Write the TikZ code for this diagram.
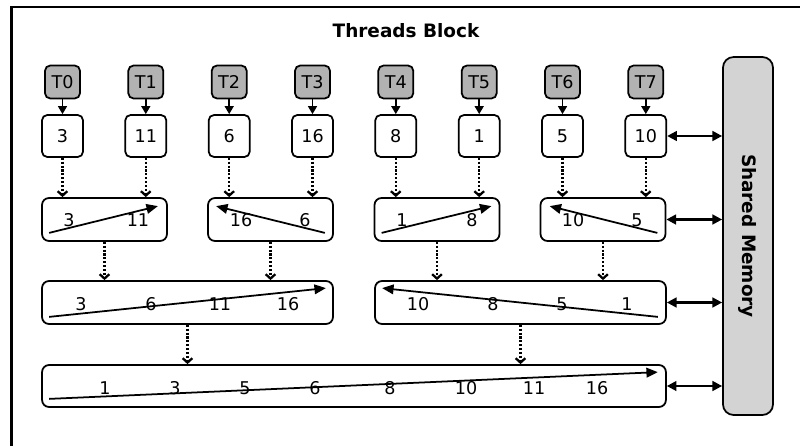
\documentclass[tikz,border=0pt]{standalone}
\usepackage{fontspec}
\setmainfont{DejaVu Sans}
\usetikzlibrary{arrows.meta, positioning, calc}
\definecolor{thrgray}{RGB}{178,178,178}
\definecolor{memgray}{RGB}{211,211,211}
\tikzset{
  threadnode/.style={rectangle, draw=black, fill=thrgray, rounded corners=3pt,
    minimum width=0.7cm, minimum height=0.66cm, inner sep=0pt,
    line width=1pt, font=\fontsize{10}{12}\selectfont},
  valbox/.style={rectangle, draw=black, fill=white, rounded corners=3pt,
    minimum width=0.82cm, minimum height=0.84cm, inner sep=0pt,
    line width=1pt, font=\fontsize{10}{12}\selectfont},
  mergebox/.style={rectangle, draw=black, rounded corners=4pt,
    minimum height=0.86cm, inner sep=0pt, line width=1pt},
  memblock/.style={rectangle, draw=black, fill=memgray, rounded corners=6pt,
    minimum width=1cm, minimum height=7.16cm, inner sep=0pt, line width=1pt},
  num/.style={inner sep=0pt, font=\fontsize{10}{12}\selectfont},
  arrow/.style={-{Triangle[length=4.5pt, width=5pt]}, line width=1pt},
  dotarrow/.style={-{Straight Barb[length=2.5pt, width=5.5pt]}, dash pattern=on 1.2pt off 1pt, line width=1.3pt},
  biarrow/.style={{Triangle[length=5.5pt, width=5.5pt]}-{Triangle[length=5.5pt, width=5.5pt]}, line width=1.3pt},
  sortarrow/.style={-{Triangle[length=6.5pt, width=5.5pt]}, line width=1pt}
}
\begin{document}
\begin{tikzpicture}[x=0.02cm, y=-0.02cm]
  \useasboundingbox (0,0) rectangle (800,446);

  % block frame and title
  \draw[line width=1.7pt] (11.5,446) -- (11.5,7) -- (800,7);
  \node[font=\fontsize{10.5}{12}\selectfont\bfseries] (title) at (406,31) {Threads Block};

  % shared memory
  \node[memblock] (shmem) at (748,236) {};
  \node[rotate=-90, font=\fontsize{10.5}{12}\selectfont\bfseries] (shmemlbl) at (shmem.center) {Shared Memory};

  % threads and their values
  \node[threadnode] (t0) at (62.5,82) {T0};
  \node[threadnode] (t1) at (145.8,82) {T1};
  \node[threadnode] (t2) at (229.2,82) {T2};
  \node[threadnode] (t3) at (312.5,82) {T3};
  \node[threadnode] (t4) at (395.8,82) {T4};
  \node[threadnode] (t5) at (479.2,82) {T5};
  \node[threadnode] (t6) at (562.5,82) {T6};
  \node[threadnode] (t7) at (645.8,82) {T7};

  \node[valbox] (v0) at (62.5,136) {3};
  \node[valbox] (v1) at (145.8,136) {11};
  \node[valbox] (v2) at (229.2,136) {6};
  \node[valbox] (v3) at (312.5,136) {16};
  \node[valbox] (v4) at (395.8,136) {8};
  \node[valbox] (v5) at (479.2,136) {1};
  \node[valbox] (v6) at (562.5,136) {5};
  \node[valbox] (v7) at (645.8,136) {10};

  \draw[arrow] (t0) -- (v0);
  \draw[arrow] (t1) -- (v1);
  \draw[arrow] (t2) -- (v2);
  \draw[arrow] (t3) -- (v3);
  \draw[arrow] (t4) -- (v4);
  \draw[arrow] (t5) -- (v5);
  \draw[arrow] (t6) -- (v6);
  \draw[arrow] (t7) -- (v7);

  % first merge step
  \node[mergebox, minimum width=2.5cm] (ma1) at (104.5,219.5) {};
  \node[mergebox, minimum width=2.5cm] (ma2) at (270.5,219.5) {};
  \node[mergebox, minimum width=2.5cm] (ma3) at (437,219.5) {};
  \node[mergebox, minimum width=2.5cm] (ma4) at (603,219.5) {};

  \draw[dotarrow] (v0.south) -- (v0.south |- ma1.north);
  \draw[dotarrow] (v1.south) -- (v1.south |- ma1.north);
  \draw[dotarrow] (v2.south) -- (v2.south |- ma2.north);
  \draw[dotarrow] (v3.south) -- (v3.south |- ma2.north);
  \draw[dotarrow] (v4.south) -- (v4.south |- ma3.north);
  \draw[dotarrow] (v5.south) -- (v5.south |- ma3.north);
  \draw[dotarrow] (v6.south) -- (v6.south |- ma4.north);
  \draw[dotarrow] (v7.south) -- (v7.south |- ma4.north);

  \draw[sortarrow] ([shift={(8,-9)}]ma1.south west) -- ([shift={(-10,9)}]ma1.north east);
  \draw[sortarrow] ([shift={(-9,-9)}]ma2.south east) -- ([shift={(9,9)}]ma2.north west);
  \draw[sortarrow] ([shift={(8,-9)}]ma3.south west) -- ([shift={(-9,9)}]ma3.north east);
  \draw[sortarrow] ([shift={(-9,-9)}]ma4.south east) -- ([shift={(10,9)}]ma4.north west);
  \node[num] (na1) at (69,220) {3};
  \node[num] (na2) at (138,220) {11};
  \node[num] (na3) at (241,220) {16};
  \node[num] (na4) at (305,220) {6};
  \node[num] (na5) at (402,220) {1};
  \node[num] (na6) at (472,220) {8};
  \node[num] (na7) at (573,220) {10};
  \node[num] (na8) at (637,220) {5};

  % second merge step
  \node[mergebox, minimum width=5.82cm] (mb1) at (187.5,302.5) {};
  \node[mergebox, minimum width=5.82cm] (mb2) at (520.5,302.5) {};

  \draw[dotarrow] (ma1.south) -- (ma1.south |- mb1.north);
  \draw[dotarrow] (ma2.south) -- (ma2.south |- mb1.north);
  \draw[dotarrow] (ma3.south) -- (ma3.south |- mb2.north);
  \draw[dotarrow] (ma4.south) -- (ma4.south |- mb2.north);

  \draw[sortarrow] ([shift={(8,-8)}]mb1.south west) -- ([shift={(-8,8)}]mb1.north east);
  \draw[sortarrow] ([shift={(-9,-8)}]mb2.south east) -- ([shift={(8,8)}]mb2.north west);
  \node[num] (nb1) at (81,304) {3};
  \node[num] (nb2) at (151,304) {6};
  \node[num] (nb3) at (220,304) {11};
  \node[num] (nb4) at (288,304) {16};
  \node[num] (nb5) at (418,304) {10};
  \node[num] (nb6) at (493,304) {8};
  \node[num] (nb7) at (562,304) {5};
  \node[num] (nb8) at (627,304) {1};

  % final merge step
  \node[mergebox, minimum width=12.48cm, minimum height=0.84cm] (mc) at (354,386) {};

  \draw[dotarrow] (mb1.south) -- (mb1.south |- mc.north);
  \draw[dotarrow] (mb2.south) -- (mb2.south |- mc.north);

  \draw[sortarrow] ([shift={(8,-9)}]mc.south west) -- ([shift={(-9,8)}]mc.north east);
  \node[num] (nc1) at (105,388) {1};
  \node[num] (nc2) at (175,388) {3};
  \node[num] (nc3) at (245,388) {5};
  \node[num] (nc4) at (315,388) {6};
  \node[num] (nc5) at (390,388) {8};
  \node[num] (nc6) at (466,388) {10};
  \node[num] (nc7) at (534,388) {11};
  \node[num] (nc8) at (597,388) {16};

  % exchange with shared memory
  \draw[biarrow] (v7.east) -- (v7.east -| shmem.west);
  \draw[biarrow] (ma4.east) -- (ma4.east -| shmem.west);
  \draw[biarrow] (mb2.east) -- (mb2.east -| shmem.west);
  \draw[biarrow] (mc.east) -- (mc.east -| shmem.west);
\end{tikzpicture}
\end{document}
